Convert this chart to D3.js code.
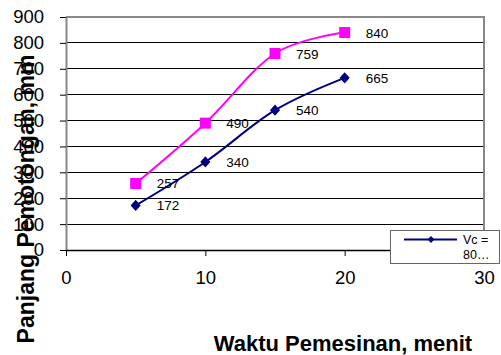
<!DOCTYPE html>
<html><head><meta charset="utf-8">
<script src="https://cdn.jsdelivr.net/npm/d3@7"></script>
<style>body{margin:0;background:#fff}svg{display:block;font-family:"Liberation Sans",Arial,sans-serif}</style>
</head><body>
<svg id="c" width="501" height="355"></svg>
<script>
const times = [5, 10, 15, 20];
const seriesNavy = [172, 340, 540, 665];
const seriesPink = [257, 490, 759, 840];
const xTicks = [0, 10, 20, 30];
const yTicks = [0, 100, 200, 300, 400, 500, 600, 700, 800, 900];
const legendLabel = ["Vc =", "80…"];
const xTitle = "Waktu Pemesinan, menit";
const yTitle = "Panjang Pemotongan, mm";

const svg = d3.select("#c");
const x = d3.scaleLinear().domain([0, 30]).range([66, 484]);
const y = d3.scaleLinear().domain([0, 900]).range([250, 17]);

// gridlines
svg.append("g").selectAll("line").data(yTicks.filter(d => d > 0 && d < 900)).join("line")
  .attr("x1", x(0)).attr("x2", x(30)).attr("y1", d => y(d)).attr("y2", d => y(d))
  .attr("stroke", "#000").attr("stroke-width", 1).attr("shape-rendering", "crispEdges");

// plot border (top, right) gray
svg.append("path")
  .attr("d", `M${x(0)},${y(900)}H${x(30)}V${y(0)}`)
  .attr("fill", "none").attr("stroke", "#888").attr("stroke-width", 2);

// y axis
const yAxis = svg.append("g").attr("transform", `translate(${x(0)},0)`)
  .call(d3.axisLeft(y).tickValues(yTicks).tickSize(6).tickPadding(16).tickSizeOuter(0));
yAxis.select(".domain").attr("stroke", "#888").attr("stroke-width", 2);
yAxis.selectAll(".tick line").attr("stroke", "#000");
yAxis.selectAll("text").attr("font-size", 18.5).attr("fill", "#000")
  .attr("font-family", "Liberation Sans, Arial, sans-serif");

// x axis
const xAxis = svg.append("g").attr("transform", `translate(0,${y(0)})`)
  .call(d3.axisBottom(x).tickValues(xTicks).tickSize(6).tickSizeOuter(0).tickPadding(15));
xAxis.select(".domain").attr("stroke", "#000").attr("stroke-width", 1.5);
xAxis.selectAll(".tick line").attr("stroke", "#000");
xAxis.selectAll("text").attr("font-size", 18.5).attr("fill", "#000")
  .attr("font-family", "Liberation Sans, Arial, sans-serif");

const line = d3.line().x((d, i) => x(times[i])).y(d => y(d)).curve(d3.curveCardinal.tension(0));

// pink series
svg.append("path").datum(seriesPink).attr("d", line)
  .attr("fill", "none").attr("stroke", "#FF00FF").attr("stroke-width", 2);
svg.append("g").selectAll("rect").data(seriesPink).join("rect")
  .attr("x", (d, i) => x(times[i]) - 5.5).attr("y", d => y(d) - 5.5)
  .attr("width", 11).attr("height", 11).attr("fill", "#FF00FF");

// navy series
svg.append("path").datum(seriesNavy).attr("d", line)
  .attr("fill", "none").attr("stroke", "#000080").attr("stroke-width", 2);
svg.append("g").selectAll("path").data(seriesNavy).join("path")
  .attr("d", d3.symbol(d3.symbolDiamond2, 90))
  .attr("transform", (d, i) => `translate(${x(times[i])},${y(d)}) scale(0.85,0.95)`)
  .attr("fill", "#000080");

// data labels
const labels = svg.append("g").attr("font-size", 13.5).attr("fill", "#000");
[seriesPink, seriesNavy].forEach(s => {
  labels.append("g").selectAll("text").data(s).join("text")
    .attr("x", (d, i) => x(times[i]) + 21).attr("y", d => y(d) + 5)
    .text(d => d);
});

// legend
const lg = svg.append("g").attr("transform", "translate(390,230)");
lg.append("rect").attr("x", 0.5).attr("y", 0.5).attr("width", 109).attr("height", 33)
  .attr("fill", "#fff").attr("stroke", "#666").attr("stroke-width", 1);
lg.append("line").attr("x1", 14).attr("x2", 67).attr("y1", 9.5).attr("y2", 9.5)
  .attr("stroke", "#000080").attr("stroke-width", 2);
lg.append("path").attr("d", d3.symbol(d3.symbolDiamond2, 30))
  .attr("transform", "translate(41,9.5)").attr("fill", "#000080");
lg.append("text").attr("x", 73).attr("y", 14).attr("font-size", 12.5).text(legendLabel[0]);
lg.append("text").attr("x", 73).attr("y", 29).attr("font-size", 12.5).text(legendLabel[1]);

// axis titles
svg.append("text").attr("x", 343).attr("y", 351).attr("text-anchor", "middle")
  .attr("font-size", 22).attr("font-weight", "bold").text(xTitle);
svg.append("text").attr("transform", "translate(34,199) rotate(-90)").attr("text-anchor", "middle")
  .attr("font-size", 23).attr("font-weight", "bold").text(yTitle);
</script>
</body></html>
